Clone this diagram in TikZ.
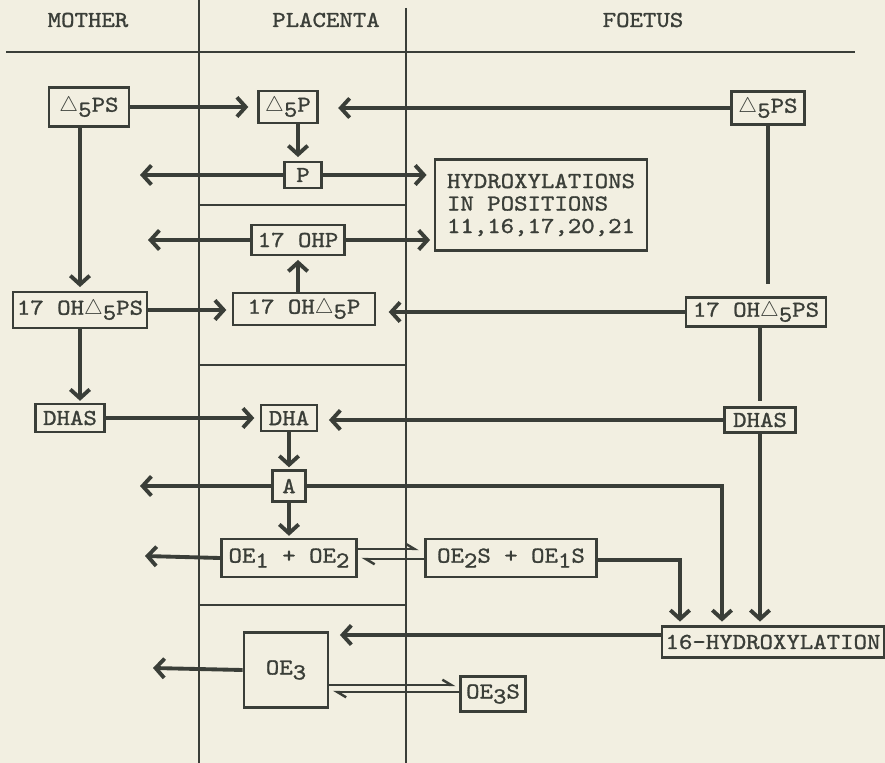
\documentclass[tikz,border=0pt]{standalone}
\usepackage{fontspec}
\setmonofont{lmmono10-regular.otf}[FakeStretch=1.12, FakeBold=1.2]
\usepackage{xcolor}
\usetikzlibrary{arrows.meta, positioning, calc}
\definecolor{ink}{HTML}{3A3E38}
\definecolor{paper}{HTML}{F2EFE1}
\newcommand{\dfive}{$\triangle$\raisebox{-.5ex}{5}}
\newcommand{\idx}[1]{\raisebox{-.5ex}{#1}}
\tikzset{
    steroid/.style={x=0.02cm, y=-0.02cm, ink, line width=2.2pt,
        >={Straight Barb[length=5pt, width=11pt]},
        font=\ttfamily\fontsize{13}{12.8}\selectfont},
    box/.style={draw, line width=1.6pt, inner sep=2pt, align=center},
    divider/.style={line width=1pt},
    % half arrows for the sulphate exchange
    harpoon/.style={line width=1.4pt, -{Straight Barb[left, length=5pt, width=6pt]}},
}

\begin{document}
\begin{tikzpicture}[steroid]
    \fill[paper] (0,0) rectangle (885,763);
    \useasboundingbox (0,0) rectangle (885,763);

    % columns
    \node (mother)   at (88,20)  {MOTHER};
    \node (placenta) at (326,20) {PLACENTA};
    \node (foetus)   at (643,20) {FOETUS};
    \draw[divider] (199,0) -- (199,763);
    \draw[divider] (406,8) -- (406,763);
    \draw[divider] (6,52) -- (855,52);
    \draw[divider] (199,205) -- (406,205);
    \draw[divider] (199,365) -- (406,365);
    \draw[divider] (199,605) -- (406,605);

    \node[box, minimum width=1.6cm,  minimum height=0.78cm] (mps)    at (89,107)  {\dfive PS};
    \node[box, minimum width=1.18cm, minimum height=0.64cm] (pp)     at (288,107) {\dfive P};
    \node[box, minimum width=1.46cm, minimum height=0.66cm] (fps)    at (768,108) {\dfive PS};
    \node[box, minimum width=0.74cm, minimum height=0.52cm] (p)      at (303,175) {P};
    \node[box, minimum width=4.24cm, minimum height=1.82cm, align=left] (hyd) at (541,205)
        {HYDROXYLATIONS\\IN POSITIONS\\11,16,17,20,21};
    \node[box, minimum width=1.86cm, minimum height=0.6cm]  (ohp)    at (298,240) {17 OHP};
    \node[box, minimum width=2.68cm, minimum height=0.72cm] (mohps)  at (80,310)  {17 OH\dfive PS};
    \node[box, minimum width=2.84cm, minimum height=0.64cm] (ohp5)   at (304,309) {17 OH\dfive P};
    \node[box, minimum width=2.8cm,  minimum height=0.58cm] (fohps)  at (756,312) {17 OH\dfive PS};
    \node[box, minimum width=1.38cm, minimum height=0.56cm] (mdhas)  at (70,418)  {DHAS};
    \node[box, minimum width=1.12cm, minimum height=0.52cm] (dha)    at (289,418) {DHA};
    \node[box, minimum width=1.42cm, minimum height=0.5cm]  (fdhas)  at (760,420) {DHAS};
    \node[box, minimum width=0.66cm, minimum height=0.62cm] (a)      at (289,486) {A};
    \node[box, minimum width=2.7cm,  minimum height=0.76cm] (oe12)   at (289,558) {OE\idx{1} + OE\idx{2}};
    \node[box, minimum width=3.42cm, minimum height=0.76cm] (oes)    at (511,558) {OE\idx{2}S + OE\idx{1}S};
    \node[box, minimum width=4.4cm,  minimum height=0.62cm] (hydr16) at (773,642) {16-HYDROXYLATION};
    \node[box, minimum width=1.68cm, minimum height=1.5cm]  (oe3)    at (286,670) {OE\idx{3}};
    \node[box, minimum width=1.3cm,  minimum height=0.7cm]  (oe3s)   at (493,694) {OE\idx{3}S};

    \coordinate (pleft)   at (140,175);
    \coordinate (ohpleft) at (148,240);
    \coordinate (aleft)   at (140,486);
    \coordinate (oeleft)  at (145,556);
    \coordinate (oe3left) at (153,668);
    \coordinate (amid)    at (722,0);
    \coordinate (oeright) at (680,0);

    % pregnenolone
    \draw[->, shorten >=5pt] (mps.east) -- (mps.east -| pp.west);
    \draw[->, shorten >=11pt] (fps.west) -- (fps.west -| pp.east);
    \draw[->, shorten >=2pt] (ohp.center |- pp.south) -- (ohp.center |- p.north);
    \draw[->] (p.west) -- (pleft);
    \draw[->, shorten >=4pt] (p.east) -- (p.east -| hyd.west);
    \draw[->] (ohp.west) -- (ohpleft);
    \draw[->, shorten >=2pt] (ohp.east) -- (ohp.east -| hyd.west);
    \draw[->, shorten >=2pt] (ohp.south |- ohp5.north) -- (ohp.south);

    % 17-hydroxy
    \draw[->, shorten >=2pt] (mohps.north |- mps.south) -- (mohps.north);
    \draw[->, shorten >=3pt] (mohps.east) -- (mohps.east -| ohp5.west);
    \draw[->, shorten >=7pt] (fohps.west) -- (fohps.west -| ohp5.east);
    \draw[shorten >=7pt] (fps.south) -- (fps.south |- fohps.north);

    % DHA
    \draw[->, shorten >=1pt] (mohps.south) -- (mohps.south |- mdhas.north);
    \draw[->, shorten >=3pt] (mdhas.east) -- (mdhas.east -| dha.west);
    \draw[->, shorten >=6pt] (fdhas.west) -- (fdhas.west -| dha.east);
    \draw[shorten >=3pt] (fdhas.north |- fohps.south) -- (fdhas.north);
    \draw[->, shorten >=1pt] (dha.south -| a) -- (a.north);
    \draw[->] (a.west) -- (aleft);
    \draw[->, shorten >=2pt] (a.east) -| (amid |- hydr16.north);
    \draw[->, shorten >=2pt] (fdhas.south) -- (fdhas.south |- hydr16.north);

    % oestrogens
    \draw[->, shorten >=1pt] (a.south) -- (oe12.north);
    \draw[->] (oe12.west) -- (oeleft);
    \draw[harpoon, shorten >=3pt] ([yshift=0.18cm]oe12.east) -- ([yshift=0.18cm]oe12.east -| oes.west);
    \draw[harpoon, shorten >=2pt] ([yshift=-0.02cm]oes.west) -- ([yshift=-0.02cm]oes.west -| oe12.east);
    \draw[->, shorten >=2pt] ([yshift=-0.04cm]oes.east) -| (oeright |- hydr16.north);
    \draw[->, shorten >=6pt] ([yshift=0.14cm]hydr16.west) -- ([yshift=0.14cm]hydr16.west -| oe3.east);
    \draw[->] (oe3.west) -- (oe3left);
    \draw[harpoon, shorten >=2pt] ([yshift=0.18cm]oe3s.west -| oe3.east) -- ([yshift=0.18cm]oe3s.west);
    \draw[harpoon, shorten >=2pt] ([yshift=0.04cm]oe3s.west) -- ([yshift=0.04cm]oe3s.west -| oe3.east);
\end{tikzpicture}
\end{document}
